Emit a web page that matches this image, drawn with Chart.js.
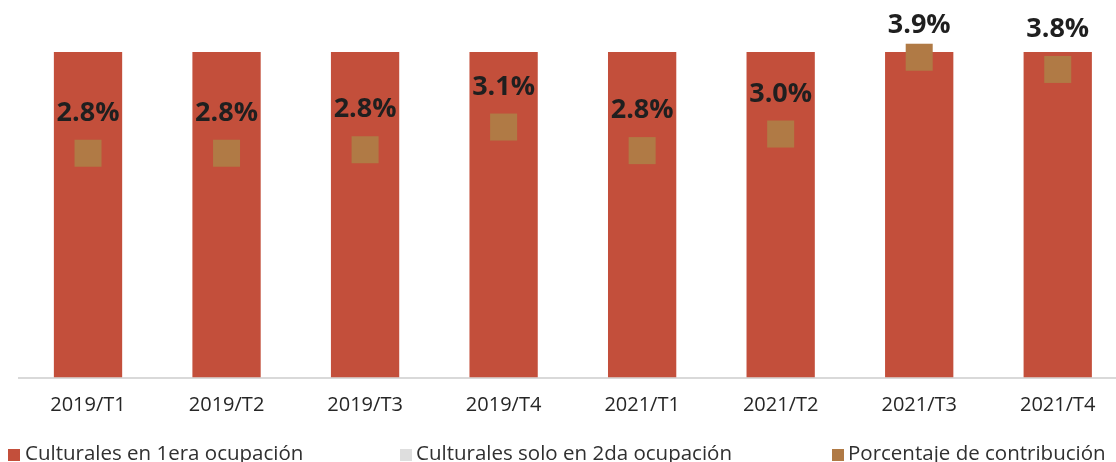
<!DOCTYPE html>
<html>
<head>
<meta charset="utf-8">
<script src="https://cdn.jsdelivr.net/npm/chart.js@4.4.1/dist/chart.umd.min.js"></script>
<style>
html,body{margin:0;padding:0;width:1116px;height:462px;overflow:hidden;background:#fff;}
#c{position:absolute;left:0;top:0;width:1127px;height:462px;}
#legend{position:absolute;left:0;top:0;width:1116px;height:462px;pointer-events:none;font-family:'Open Sans',sans-serif;font-size:20.5px;color:#303030;}
.lbox{position:absolute;top:449px;width:12px;height:12px;}
.ltxt{position:absolute;top:441.8px;line-height:20.5px;white-space:nowrap;}
</style>
</head>
<body>
<canvas id="c" width="1127" height="462"></canvas>
<div id="legend"></div>
<script>
// ---- data ----
const categories = ["2019/T1","2019/T2","2019/T3","2019/T4","2021/T1","2021/T2","2021/T3","2021/T4"];
const primeraOcupacion = [100,100,100,100,100,100,100,100];
const soloSegunda = [0,0,0,0,0,0,0,0];
const contribucion = [2.80,2.80,2.84,3.10,2.83,3.02,3.90,3.76];
const seriesNames = ["Culturales en 1era ocupación","Culturales solo en 2da ocupación","Porcentaje de contribución"];
const colors = ["#C34F3B","#DEDEDE","#B07A45"];

// ---- legend (HTML) ----
const legendPos = [[8,25],[400,416],[832,848]];
const leg = document.getElementById('legend');
seriesNames.forEach((n,i)=>{
  const b=document.createElement('div'); b.className='lbox'; b.style.left=legendPos[i][0]+'px'; b.style.background=colors[i]; leg.appendChild(b);
  const t=document.createElement('div'); t.className='ltxt'; t.style.left=legendPos[i][1]+'px'; t.textContent=n; leg.appendChild(t);
});

const labelPlugin = {
  id:'vlabels',
  afterDatasetsDraw(chart){
    const meta = chart.getDatasetMeta(2);
    const ctx = chart.ctx;
    ctx.save();
    ctx.font = "700 27px 'Open Sans'";
    ctx.fillStyle = '#1f1f1f';
    ctx.textAlign='center'; ctx.textBaseline='middle';
    meta.data.forEach((pt,i)=>{
      const y = Math.max(pt.y - 40, 25);
      ctx.fillText(contribucion[i].toFixed(1)+'%', pt.x, y);
    });
    ctx.restore();
  }
};

new Chart(document.getElementById('c'), {
  data:{
    labels:categories,
    datasets:[
      {type:'bar',label:seriesNames[0],data:primeraOcupacion,backgroundColor:colors[0],yAxisID:'y',order:2,barPercentage:0.493,categoryPercentage:1},
      {type:'bar',label:seriesNames[1],data:soloSegunda,backgroundColor:colors[1],yAxisID:'y',order:2,barPercentage:0.493,categoryPercentage:1},
      {type:'line',label:seriesNames[2],data:contribucion,yAxisID:'y2',showLine:false,pointStyle:'rect',pointRadius:19.1,pointHoverRadius:19.1,pointBackgroundColor:colors[2],pointBorderWidth:0,pointBorderColor:colors[2],backgroundColor:colors[2],order:0,clip:false}
    ]
  },
  options:{
    responsive:false, maintainAspectRatio:false, animation:false, devicePixelRatio:1,
    layout:{autoPadding:false,padding:{left:18.75,top:52,right:0,bottom:0}},
    plugins:{legend:{display:false},tooltip:{enabled:false},title:{display:false}},
    scales:{
      x:{stacked:true, grid:{display:false,drawTicks:false}, border:{display:true,color:'#D9D9D9',width:2},
         ticks:{font:{family:"'Open Sans'",size:20},color:'#262626',padding:16,maxRotation:0,autoSkip:false},
         afterFit(s){s.height=84.5;}},
      y:{stacked:true,display:false,min:0,max:100},
      y2:{display:false,min:0.23,max:3.96,position:'right'}
    }
  },
  plugins:[labelPlugin]
});
</script>
</body>
</html>
